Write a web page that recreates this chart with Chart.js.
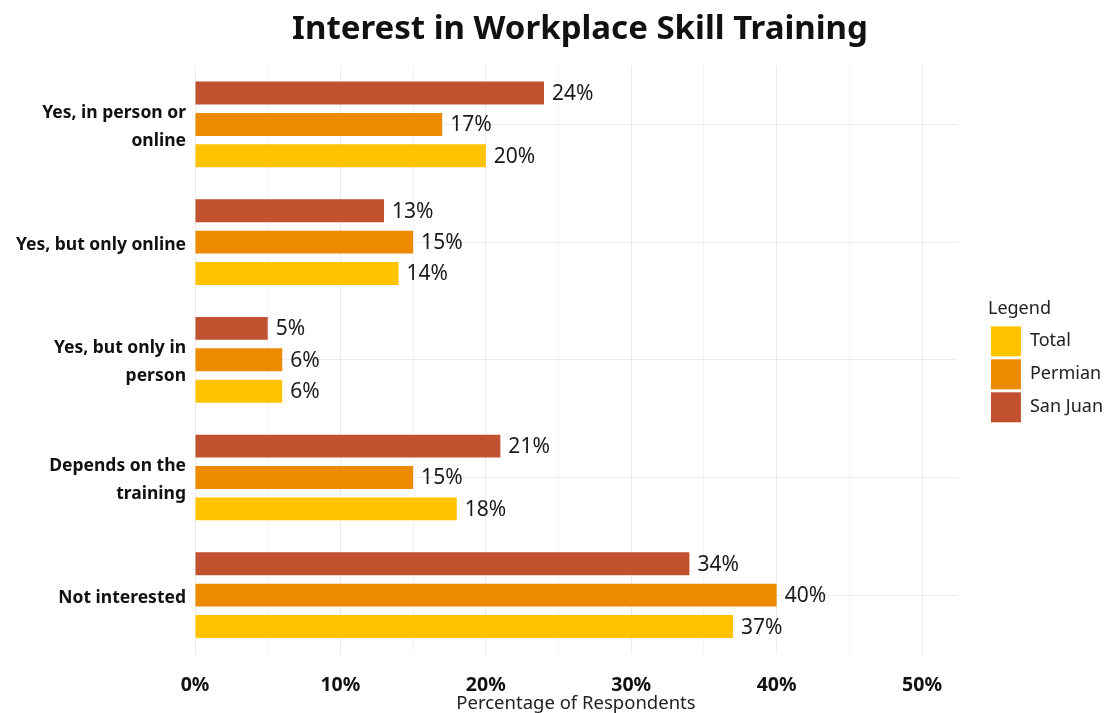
<!DOCTYPE html>
<html>
<head>
<meta charset="utf-8">
<script src="https://cdn.jsdelivr.net/npm/chart.js@4"></script>
<style>
  html, body { margin: 0; padding: 0; background: #fff; }
  #wrap { width: 1118px; height: 713px; }
</style>
</head>
<body>
<div id="wrap"><canvas id="chart" width="1118" height="713"></canvas></div>
<script>
const categories = [
    ["Yes, in person or", "online"],
    "Yes, but only online",
    ["Yes, but only in", "person"],
    ["Depends on the", "training"],
    "Not interested"
];
const sanJuan = [24, 13, 5, 21, 34];
const permian = [17, 15, 6, 15, 40];
const total = [20, 14, 6, 18, 37];
const xTicks = [0, 10, 20, 30, 40, 50];

const FONT = "'Noto Sans', sans-serif";

// value labels at the end of each bar
const barLabels = {
    id: "barLabels",
    afterDatasetsDraw(chart) {
        const ctx = chart.ctx;
        ctx.save();
        ctx.font = "21px " + FONT;
        ctx.fillStyle = "#1a1a1a";
        ctx.textAlign = "left";
        ctx.textBaseline = "middle";
        chart.data.datasets.forEach((ds, i) => {
            chart.getDatasetMeta(i).data.forEach((bar, j) => {
                ctx.fillText(ds.data[j] + "%", bar.x + 8, bar.y + 1);
            });
        });
        ctx.restore();
    }
};

// nudge legend and title to where the original has them
const boxShift = {
    id: "boxShift",
    afterLayout(chart) {
        const lg = chart.legend;
        if (lg) {
            const dx = chart.chartArea.right + 31 - lg.left;
            lg.left += dx; lg.right += dx;
            lg.top += 6; lg.bottom += 6;
        }
        const tb = chart.titleBlock;
        if (tb) { tb.left += 39; tb.right += 39; }
    }
};

new Chart(document.getElementById("chart"), {
    type: "bar",
    data: {
        labels: categories,
        datasets: [
            {label: "San Juan", data: sanJuan, backgroundColor: "#C25130"},
            {label: "Permian", data: permian, backgroundColor: "#EC8B00"},
            {label: "Total", data: total, backgroundColor: "#FFC300"}
        ]
    },
    options: {
        indexAxis: "y",
        responsive: false,
        animation: false,
        categoryPercentage: 0.8,
        barPercentage: 0.73,
        layout: {padding: {left: 0, right: 36, top: 0, bottom: 0}},
        plugins: {
            title: {
                display: true,
                text: "Interest in Workplace Skill Training",
                color: "#111",
                font: {family: FONT, size: 33, weight: "bold"},
                padding: {top: 10, bottom: 16}
            },
            legend: {
                position: "right",
                align: "center",
                reverse: true,
                title: {
                    display: true,
                    text: "Legend",
                    color: "#222",
                    position: "start",
                    font: {family: FONT, size: 18},
                    padding: {top: 0, bottom: 2}
                },
                labels: {
                    boxWidth: 30,
                    boxHeight: 30,
                    padding: 3,
                    color: "#222",
                    font: {family: FONT, size: 18}
                }
            },
            tooltip: {enabled: false}
        },
        scales: {
            x: {
                min: 0,
                max: 52.4,
                border: {display: false},
                grid: {
                    drawTicks: false,
                    color: ctx => (ctx.tick && ctx.tick.value % 10 === 0) ? "#EBEBEB" : "#F4F4F4"
                },
                ticks: {
                    stepSize: 5,
                    includeBounds: false,
                    padding: 20,
                    color: "#111",
                    font: {family: FONT, size: 19.5, weight: "bold"},
                    callback: v => xTicks.includes(v) ? v + "%" : ""
                },
                title: {
                    display: true,
                    text: "Percentage of Respondents",
                    color: "#222",
                    font: {family: FONT, size: 18.5, lineHeight: 1},
                    padding: {top: 0, bottom: 0}
                },
                afterFit: scale => { scale.height = 59; }
            },
            y: {
                border: {display: false},
                grid: {drawTicks: false, offset: false, color: "#EBEBEB"},
                ticks: {
                    padding: 9,
                    labelOffset: 2.5,
                    color: "#111",
                    font: {family: FONT, size: 17.5, weight: "bold", lineHeight: 1.6}
                },
                afterFit: scale => { scale.width = 195; }
            }
        }
    },
    plugins: [barLabels, boxShift]
});
</script>
</body>
</html>
